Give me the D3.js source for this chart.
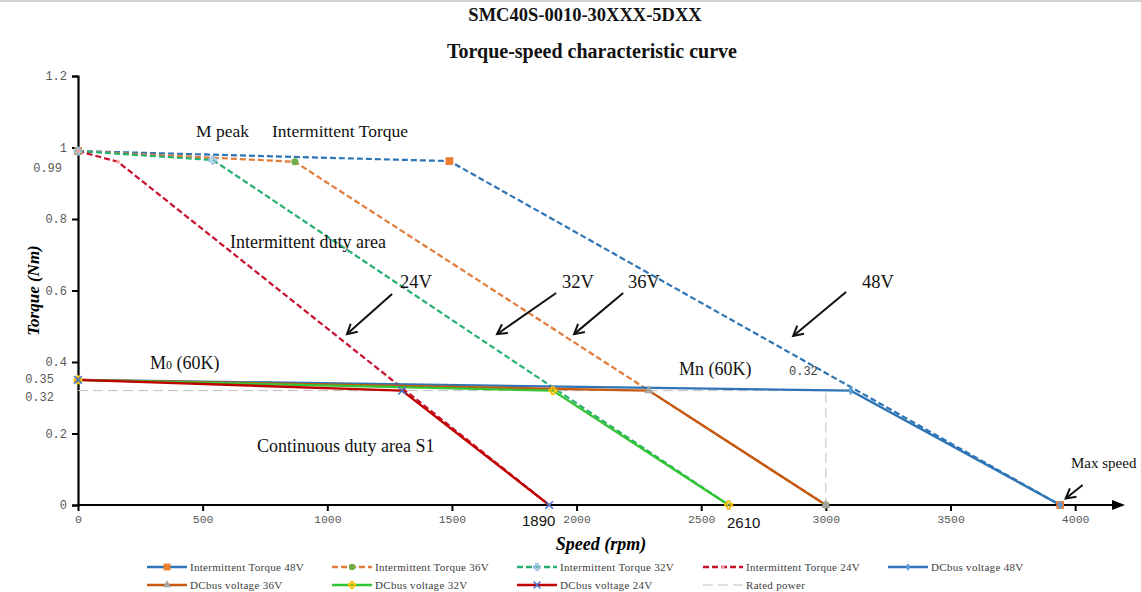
<!DOCTYPE html>
<html><head><meta charset="utf-8">
<script src="https://cdn.jsdelivr.net/npm/d3@7"></script>
<style>
body{margin:0;background:#fff;}
svg{display:block;}
.serif{font-family:"Liberation Serif","Times New Roman",serif;}
.mono{font-family:"Liberation Mono","DejaVu Sans Mono",monospace;}
</style></head>
<body>
<svg id="chart" width="1141" height="592"></svg>
<script>
// ---------- data ----------
const titleLines = ["SMC40S-0010-30XXX-5DXX", "Torque-speed characteristic curve"];
const xTicks = [0, 500, 1000, 1500, 2000, 2500, 3000, 3500, 4000];
const yTicks = [0, 0.2, 0.4, 0.6, 0.8, 1, 1.2];
const yExtraLabels = ["0.99", "0.35", "0.32"];

const speedIT48 = [0, 1490, 3940];
const torqueIT48 = [0.99, 0.962, 0];
const speedIT36 = [0, 870, 3000];
const torqueIT36 = [0.99, 0.96, 0];
const speedIT32 = [0, 541, 2610];
const torqueIT32 = [0.99, 0.965, 0];
const speedIT24 = [0, 160, 1890];
const torqueIT24 = [0.99, 0.96, 0];

const speedDC48 = [0, 3100, 3940];
const torqueDC48 = [0.35, 0.32, 0];
const speedDC36 = [0, 2290, 3000];
const torqueDC36 = [0.35, 0.32, 0];
const speedDC32 = [0, 1905, 2610];
const torqueDC32 = [0.35, 0.32, 0];
const speedDC24 = [0, 1300, 1890];
const torqueDC24 = [0.35, 0.32, 0];

const speedRated = [0, 3000, 3000];
const torqueRated = [0.32, 0.32, 0];

const seriesNames = ["Intermittent Torque 48V","Intermittent Torque 36V","Intermittent Torque 32V","Intermittent Torque 24V","DCbus voltage 48V",
                     "DCbus voltage 36V","DCbus voltage 32V","DCbus voltage 24V","Rated power"];

// ---------- setup ----------
const svg = d3.select("#chart");
const x = d3.scaleLinear().domain([0, 4200]).range([78, 1125]);
const y = d3.scaleLinear().domain([0, 1.2]).range([505, 76]);

const zip = (a, b) => a.map((v, i) => [v, b[i]]);

const series = [
  {name: seriesNames[0], pts: zip(speedIT48, torqueIT48), color: "#2E75B6", dash: "6,3", w: 2.2, marker: "square", mcolor: "#ED7D31", legendDash: null},
  {name: seriesNames[1], pts: zip(speedIT36, torqueIT36), color: "#E07B39", dash: "6,3", w: 2.2, marker: "circle", mcolor: "#70AD47", legendDash: "6,3"},
  {name: seriesNames[2], pts: zip(speedIT32, torqueIT32), color: "#25B070", dash: "6,3", w: 2.2, marker: "plus", mcolor: "#9DC3E6", legendDash: "6,3"},
  {name: seriesNames[3], pts: zip(speedIT24, torqueIT24), color: "#C8102E", dash: "6,3", w: 2.2, marker: "dot", mcolor: "#F4A0A0", legendDash: "6,3"},
  {name: seriesNames[8], pts: zip(speedRated, torqueRated), color: "#BFBFBF", dash: "10,5", w: 1, marker: null, mcolor: null, legendDash: "10,5"},
  {name: seriesNames[4], pts: zip(speedDC48, torqueDC48), color: "#2E75B6", dash: null, w: 2.4, marker: "diamond", mcolor: "#5B9BD5", legendDash: null},
  {name: seriesNames[5], pts: zip(speedDC36, torqueDC36), color: "#C65911", dash: null, w: 2.4, marker: "triangle", mcolor: "#A5A5A5", legendDash: null},
  {name: seriesNames[6], pts: zip(speedDC32, torqueDC32), color: "#33C433", dash: null, w: 2.4, marker: "plus", mcolor: "#FFC000", legendDash: null},
  {name: seriesNames[7], pts: zip(speedDC24, torqueDC24), color: "#C00000", dash: null, w: 2.4, marker: "star", mcolor: "#4472C4", legendDash: null}
];

// top rule
svg.append("line").attr("x1",0).attr("x2",1141).attr("y1",1).attr("y2",1).attr("stroke","#d0d0d0").attr("stroke-width",2);

// titles
svg.append("text").attr("class","serif").attr("x",585).attr("y",21).attr("text-anchor","middle")
  .attr("font-size",18.5).attr("font-weight","bold").attr("fill","#111").text(titleLines[0]);
svg.append("text").attr("class","serif").attr("x",592).attr("y",58).attr("text-anchor","middle")
  .attr("font-size",20).attr("font-weight","bold").attr("fill","#111").text(titleLines[1]);

// ---------- axes ----------
const yAxis = d3.axisLeft(y).tickValues(yTicks).tickSize(6).tickFormat(d => d3.format("~g")(d));
const gy = svg.append("g").attr("transform", `translate(${x(0)},0)`).call(yAxis);
gy.select(".domain").attr("stroke","#000").attr("stroke-width",2.2);
gy.selectAll(".tick line").attr("stroke","#000").attr("stroke-width",2);
gy.selectAll(".tick text").attr("class","mono").attr("font-size",12).attr("fill","#595959").attr("x",-11);

const xAxis = d3.axisBottom(x).tickValues(xTicks).tickSize(6).tickFormat(d3.format("d"));
const gx = svg.append("g").attr("transform", `translate(0,${y(0)})`).call(xAxis);
gx.select(".domain").attr("stroke","#000").attr("stroke-width",2.2).attr("d", `M${x(0)},0H${x(4200)-8}`);
gx.selectAll(".tick line").attr("stroke","#000").attr("stroke-width",2);
gx.selectAll(".tick text").attr("class","mono").attr("font-size",11.5).attr("fill","#595959").attr("y",10);
// arrowhead on x axis
svg.append("path").attr("d", `M${x(4200)},${y(0)} L${x(4200)-13},${y(0)-5} L${x(4200)-13},${y(0)+5} Z`).attr("fill","#000");

// extra y labels
const extraY = [172, 383, 401];
yExtraLabels.forEach((t, i) => {
  svg.append("text").attr("class","mono").attr("x", i === 0 ? 62 : 54).attr("y", extraY[i])
    .attr("text-anchor","end").attr("font-size",12).attr("fill","#595959").text(t);
});

// axis titles
svg.append("text").attr("class","serif").attr("transform",`translate(39,${y(0.6)}) rotate(-90)`)
  .attr("text-anchor","middle").attr("font-size",17).attr("font-weight","bold").attr("font-style","italic").text("Torque (Nm)");
svg.append("text").attr("class","serif").attr("x",601).attr("y",550)
  .attr("text-anchor","middle").attr("font-size",18).attr("font-weight","bold").attr("font-style","italic").text("Speed (rpm)");

// ---------- lines ----------
const line = d3.line().x(d => x(d[0])).y(d => y(d[1]));
const sym = {
  square: d3.symbolSquare, circle: d3.symbolCircle, plus: d3.symbolCross, dot: d3.symbolCircle,
  diamond: d3.symbolDiamond, triangle: d3.symbolTriangle, star: d3.symbolX
};
const symSize = {square: 60, circle: 40, plus: 30, dot: 12, diamond: 24, triangle: 36, star: 40};

series.forEach(s => {
  svg.append("path").datum(s.pts).attr("d", line).attr("fill","none")
    .attr("stroke", s.color).attr("stroke-width", s.w).attr("stroke-dasharray", s.dash);
});
series.forEach(s => {
  if (!s.marker) return;
  svg.append("g").selectAll("path").data(s.pts).join("path")
    .attr("transform", d => `translate(${x(d[0])},${y(d[1])})`)
    .attr("d", d3.symbol(sym[s.marker], symSize[s.marker]))
    .attr("fill", s.marker === "star" || s.marker === "plus" ? "none" : s.mcolor)
    .attr("stroke", s.marker === "star" || s.marker === "plus" ? s.mcolor : "none")
    .attr("stroke-width", 1.5);
});

// ---------- annotations ----------
const notes = [
  {t:"M peak", px:196, py:137, fs:17.5},
  {t:"Intermittent Torque", px:272, py:137, fs:17.5},
  {t:"Intermittent duty area", px:230, py:248, fs:18},
  {t:"24V", px:400, py:288, fs:18.5},
  {t:"32V", px:562, py:288, fs:18.5},
  {t:"36V", px:628, py:288, fs:18.5},
  {t:"48V", px:862, py:288, fs:18.5},
  {t:"Mn (60K)", px:679, py:375, fs:18},
  {t:"Continuous duty area S1", px:257, py:452, fs:18},
  {t:"Max speed", px:1071, py:468, fs:15}
];
notes.forEach(n => svg.append("text").attr("class","serif").attr("x",n.px).attr("y",n.py)
  .attr("font-size",n.fs).attr("fill","#111").text(n.t));
const m0 = svg.append("text").attr("class","serif").attr("x",150).attr("y",369).attr("font-size",18).attr("fill","#111");
m0.append("tspan").text("M");
m0.append("tspan").attr("font-size",12).text("0");
m0.append("tspan").text(" (60K)");
svg.append("text").attr("class","mono").attr("x",789).attr("y",375).attr("font-size",12).attr("fill","#404040").text("0.32");
svg.append("text").attr("x",522).attr("y",526).attr("font-family","Liberation Sans, Arial, sans-serif").attr("font-size",15).attr("fill","#111").text("1890");
svg.append("text").attr("x",727).attr("y",528).attr("font-family","Liberation Sans, Arial, sans-serif").attr("font-size",15).attr("fill","#111").text("2610");

// arrows (data coordinates)
const arrows = [
  [[1260,0.59],[1079,0.478]],
  [[1918,0.593],[1681,0.478]],
  [[2187,0.593],[1990,0.478]],
  [[3081,0.596],[2869,0.473]],
  [[4030,0.056],[3962,0.018]]
];
arrows.forEach(a => {
  const x1 = x(a[0][0]), y1 = y(a[0][1]), x2 = x(a[1][0]), y2 = y(a[1][1]);
  const ang = Math.atan2(y2 - y1, x2 - x1), L = 11, spread = 0.5;
  svg.append("line").attr("x1",x1).attr("y1",y1).attr("x2",x2).attr("y2",y2).attr("stroke","#111").attr("stroke-width",2);
  svg.append("path").attr("d",
    `M${x2 - L*Math.cos(ang - spread)},${y2 - L*Math.sin(ang - spread)} L${x2},${y2} L${x2 - L*Math.cos(ang + spread)},${y2 - L*Math.sin(ang + spread)}`)
    .attr("fill","none").attr("stroke","#111").attr("stroke-width",2);
});

// ---------- legend ----------
const legendOrder = [0,1,2,3,5,6,7,8,4]; // series index in display order
const legX = [147, 332, 517, 703, 888];
const legY = [567, 585];
legendOrder.forEach((si, i) => {
  const s = series[si];
  const lx = legX[i % 5], ly = legY[Math.floor(i / 5)];
  const g = svg.append("g").attr("transform", `translate(${lx},${ly})`);
  g.append("line").attr("x1",0).attr("x2",40).attr("y1",0).attr("y2",0)
    .attr("stroke", s.color).attr("stroke-width", s.w === 1 ? 1 : 2.4).attr("stroke-dasharray", s.legendDash);
  if (s.marker) {
    g.append("path").attr("transform","translate(20,0)")
      .attr("d", d3.symbol(sym[s.marker], symSize[s.marker] * 0.8))
      .attr("fill", s.marker === "star" || s.marker === "plus" ? "none" : s.mcolor)
      .attr("stroke", s.marker === "star" || s.marker === "plus" ? s.mcolor : "none").attr("stroke-width",1.5);
  }
  g.append("text").attr("class","serif").attr("x",43).attr("y",4).attr("font-size",11)
    .attr("letter-spacing",0.3).attr("fill","#404040").text(s.name);
});
</script>
</body></html>
